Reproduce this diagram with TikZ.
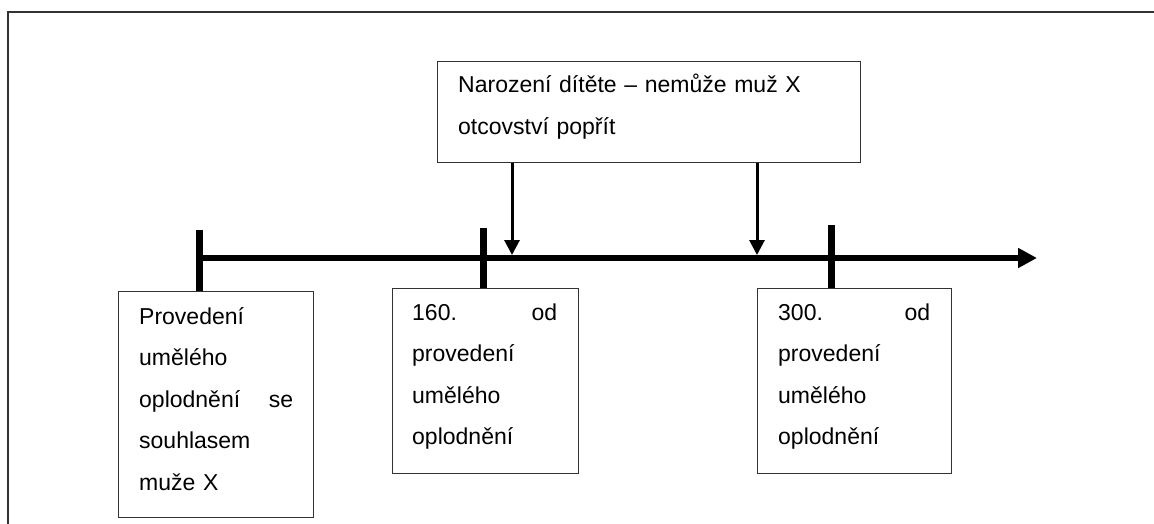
\documentclass[tikz,border=0pt]{standalone}
\usepackage{fontspec}
\setmainfont{Liberation Sans}
\usetikzlibrary{arrows.meta}
\begin{document}
\begin{tikzpicture}[x=1pt,y=-1pt,
  box/.style={draw=black!80, line width=1.4pt, anchor=north west, inner sep=0pt},
  txt/.style={anchor=base west, inner sep=0pt, align=left, font=\fontsize{23}{41.5}\selectfont},
  tick/.style={line width=7pt},
  axis/.style={line width=6pt, -{Triangle[length=19pt,width=19pt]}},
  down/.style={line width=3pt, -{Triangle[length=15pt,width=15pt]}}
]
\useasboundingbox (0,0) rectangle (1154,524);
% frame
\draw[black!80, line width=2pt] (8,540) -- (8,12) -- (1170,12);
% boxes
\node[box, minimum width=195pt, minimum height=226pt] (b1) at (118,291) {};
\node[box, minimum width=186pt, minimum height=185pt] (b2) at (392,288) {};
\node[box, minimum width=194pt, minimum height=185pt] (b3) at (757,288) {};
\node[box, minimum width=423pt, minimum height=101pt] (top) at (437,61) {};
% texts
\node[txt, text width=154pt] (t1) at (139,324) {Provedení\\umělého\\oplodnění\hfill se\\souhlasem\\muže X};
\node[txt, text width=145pt] (t2) at (412,320) {160.\hfill od\\provedení\\umělého\\oplodnění};
\node[txt, text width=152pt] (t3) at (778,320) {300.\hfill od\\provedení\\umělého\\oplodnění};
\node[txt, text width=390pt, font=\fontsize{23}{42}\selectfont] (t4) at (458,93) {Narození dítěte – nemůže muž X\\otcovství popřít};
% timeline
\coordinate (a0) at (199,258);
\coordinate (aend) at (1037,258);
\coordinate (c1) at (199,230);
\coordinate (c2) at (483,228);
\coordinate (c3) at (831,225);
\coordinate (d1) at (512,255);
\coordinate (d2) at (757,255);
\draw[axis] (a0) -- (aend);
\draw[tick] (c1) -- (c1 |- b1.north);
\draw[tick] (c2) -- (c2 |- b2.north);
\draw[tick] (c3) -- (c3 |- b3.north);
\draw[down] (top.south -| d1) -- (d1);
\draw[down] (top.south -| d2) -- (d2);
\end{tikzpicture}
\end{document}
